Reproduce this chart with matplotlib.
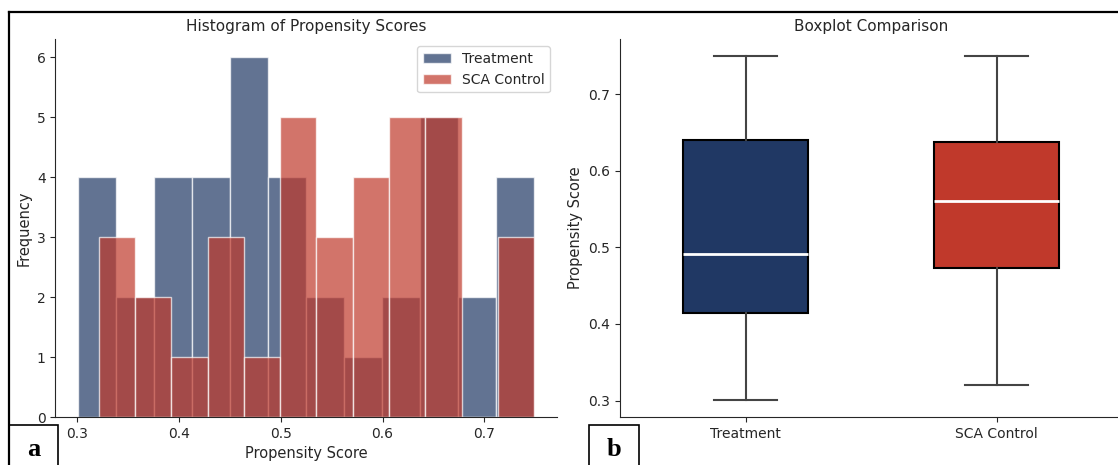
import numpy as np
import matplotlib
matplotlib.use("Agg")
import matplotlib.pyplot as plt
from matplotlib.lines import Line2D
from matplotlib.patches import Rectangle

# Histogram counts per bin (12 equal bins between each group's min and max)
groups = ["Treatment", "SCA Control"]
treat_counts = [4, 2, 4, 4, 6, 4, 2, 1, 2, 5, 2, 4]
sca_counts = [3, 2, 1, 3, 1, 5, 3, 4, 5, 5, 0, 3]
treat_range = (0.301, 0.749)
sca_range = (0.321, 0.749)

# Five-number summaries for the boxplot
whislo = [0.301, 0.321]
q1 = [0.414, 0.473]
med = [0.491, 0.560]
q3 = [0.640, 0.638]
whishi = [0.749, 0.749]

hist_colors = ["#1f3864", "#c0392b"]
box_colors = ["#203864", "#c0392b"]

dark = "0.15"
plt.rcParams.update({
    "text.color": dark,
    "axes.labelcolor": dark,
    "axes.edgecolor": dark,
    "xtick.color": dark,
    "ytick.color": dark,
})

fig = plt.figure(figsize=(11.18, 4.65), dpi=100)
ax1 = fig.add_axes([0.0496, 0.1032, 0.4486, 0.8123])
ax2 = fig.add_axes([0.5546, 0.1032, 0.4490, 0.8123])

# --- histogram
for counts, (lo, hi), color, name in zip([treat_counts, sca_counts],
                                         [treat_range, sca_range],
                                         hist_colors, groups):
    edges = np.linspace(lo, hi, len(counts) + 1)
    ax1.hist(edges[:-1], bins=edges, weights=counts, color=color, alpha=0.7,
             edgecolor="white", linewidth=1, label=name)

ax1.set_title("Histogram of Propensity Scores", fontsize=11)
ax1.set_xlabel("Propensity Score", fontsize=10.5)
ax1.set_ylabel("Frequency", fontsize=10.5)
ax1.set_xticks([0.3, 0.4, 0.5, 0.6, 0.7])
ax1.tick_params(labelsize=10)
ax1.legend(loc="upper right", fontsize=10)

# --- boxplot
stats = [dict(label=g, whislo=a, q1=b, med=c, q3=d, whishi=e)
         for g, a, b, c, d, e in zip(groups, whislo, q1, med, q3, whishi)]
bp = ax2.bxp(stats, widths=0.5, patch_artist=True, showfliers=False,
             boxprops=dict(edgecolor="black", linewidth=1.5),
             whiskerprops=dict(color="#444444", linewidth=1.5),
             capprops=dict(color="#444444", linewidth=1.5),
             medianprops=dict(color="white", linewidth=2))
for patch, color in zip(bp["boxes"], box_colors):
    patch.set_facecolor(color)

ax2.set_title("Boxplot Comparison", fontsize=11)
ax2.set_ylabel("Propensity Score", fontsize=10.5)
ax2.set_xlim(0.5, 2.5)
ax2.set_yticks([0.3, 0.4, 0.5, 0.6, 0.7])
ax2.tick_params(labelsize=10)

for ax in (ax1, ax2):
    ax.spines["top"].set_visible(False)
    ax.spines["right"].set_visible(False)

# page frame and panel letters
fig.add_artist(Line2D([0.008, 1.0], [0.9735, 0.9735], color="black", lw=1.6))
fig.add_artist(Line2D([0.008, 0.008], [0.0, 0.9735], color="black", lw=1.6))
for x0, w, letter in [(0.008, 0.0435, "a"), (0.5268, 0.0447, "b")]:
    fig.add_artist(Rectangle((x0, -0.01), w, 0.095, transform=fig.transFigure,
                             facecolor="white", edgecolor="black", lw=1.2))
    fig.text(x0 + w / 2, 0.008, letter, ha="center", va="bottom", color="black",
             fontsize=19, fontweight="bold", family="Liberation Serif")

fig.savefig("out.png", dpi=100)
